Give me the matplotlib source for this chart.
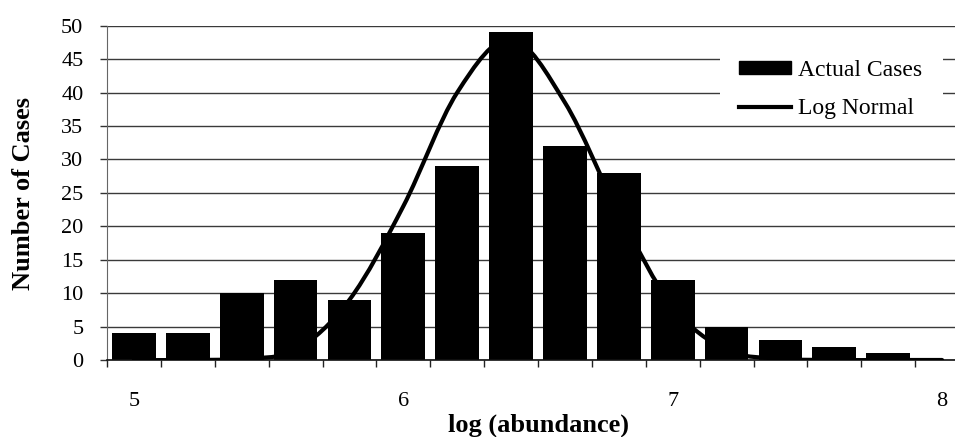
import matplotlib.pyplot as plt
from matplotlib.path import Path
from matplotlib.patches import PathPatch, Patch, Rectangle
from matplotlib.lines import Line2D

plt.rcParams['font.family'] = ['Liberation Serif', 'DejaVu Serif']

# categories (log abundance, step 0.2)
log_abundance = [5.0, 5.2, 5.4, 5.6, 5.8, 6.0, 6.2, 6.4,
                 6.6, 6.8, 7.0, 7.2, 7.4, 7.6, 7.8, 8.0]
actual_cases = [4, 4, 10, 12, 9, 19, 29, 49, 32, 28, 12, 5, 3, 2, 1, 0]
log_normal = [0, 0, 0.2, 1.5, 9, 23, 40, 48, 38.5, 22, 8, 1.5, 0.2, 0, 0, 0]
x_ticklabels = ["5", "6", "7", "8"]
y_ticks = [0, 5, 10, 15, 20, 25, 30, 35, 40, 45, 50]

fig = plt.figure(figsize=(9.55, 4.37), dpi=100)
ax = fig.add_axes([107 / 955, 1 - 360 / 437, 1 - 107 / 955, (360 - 25.7) / 437])

step = 0.2
ax.bar(log_abundance, actual_cases, width=0.162, color="black", zorder=2)

# smoothed line (excel style bezier through the points)
pts = list(zip(log_abundance, log_normal))
verts = [pts[0]]
codes = [Path.MOVETO]
for i in range(len(pts) - 1):
    p0 = pts[max(i - 1, 0)]
    p1 = pts[i]
    p2 = pts[i + 1]
    p3 = pts[min(i + 2, len(pts) - 1)]
    c1 = (p1[0] + (p2[0] - p0[0]) / 6, p1[1] + (p2[1] - p0[1]) / 6)
    c2 = (p2[0] - (p3[0] - p1[0]) / 6, p2[1] - (p3[1] - p1[1]) / 6)
    verts += [c1, c2, p2]
    codes += [Path.CURVE4] * 3
curve = PathPatch(Path(verts, codes), facecolor="none", edgecolor="black",
                  lw=3, zorder=3, capstyle="round")
ax.add_patch(curve)

ax.set_xlim(log_abundance[0] - step / 2, 8.048)
ax.set_ylim(0, 50)

# ticks at the category boundaries, labels every fifth category
bounds = [x - step / 2 for x in log_abundance]
ax.set_xticks(bounds)
ax.set_xticklabels([])
ax.tick_params(axis="x", which="major", direction="out", length=5, width=1, color="#222222")
ax.set_xticks(log_abundance[::5], minor=True)
ax.set_xticklabels(x_ticklabels, minor=True, fontsize=16)
ax.tick_params(axis="x", which="minor", length=0, pad=23)

ax.set_yticks(y_ticks)
ax.set_yticklabels([str(v) for v in y_ticks], fontsize=16)
ax.tick_params(axis="y", direction="out", length=5, width=1, color="#333333", pad=12)

ax.grid(axis="y", color="#3a3a3a", lw=1)
ax.set_axisbelow(True)

for s in ["top", "right"]:
    ax.spines[s].set_visible(False)
ax.spines["left"].set_color("#666666")
ax.spines["left"].set_linewidth(0.8)
ax.spines["bottom"].set_color("#111111")
ax.spines["bottom"].set_linewidth(1.2)

fig.text(24 / 955, 1 - 193 / 437, "Number of Cases", rotation=90, ha="center",
         va="center", fontsize=19, fontweight="bold")
fig.text(538 / 955, 1 - 425 / 437, "log (abundance)", ha="center", va="center",
         fontsize=19, fontweight="bold")

# white box behind the legend, cutting the gridlines
ax.add_patch(Rectangle((720 / 955, 1 - 117 / 437), 223 / 955, 70 / 437,
                       transform=fig.transFigure, facecolor="white",
                       edgecolor="none", zorder=1.5))

handles = [Patch(facecolor="black", edgecolor="black"),
           Line2D([], [], color="black", lw=3)]
leg = ax.legend(handles, ["Actual Cases", "Log Normal"], loc="center",
                bbox_to_anchor=(831 / 955, 1 - 89.5 / 437), bbox_transform=fig.transFigure,
                fontsize=17, frameon=False, handlelength=2.2,
                handleheight=0.47, handletextpad=0.3, labelspacing=0.72,
                borderpad=0.3)
leg.set_zorder(5)

fig.savefig("out.png", dpi=100)
